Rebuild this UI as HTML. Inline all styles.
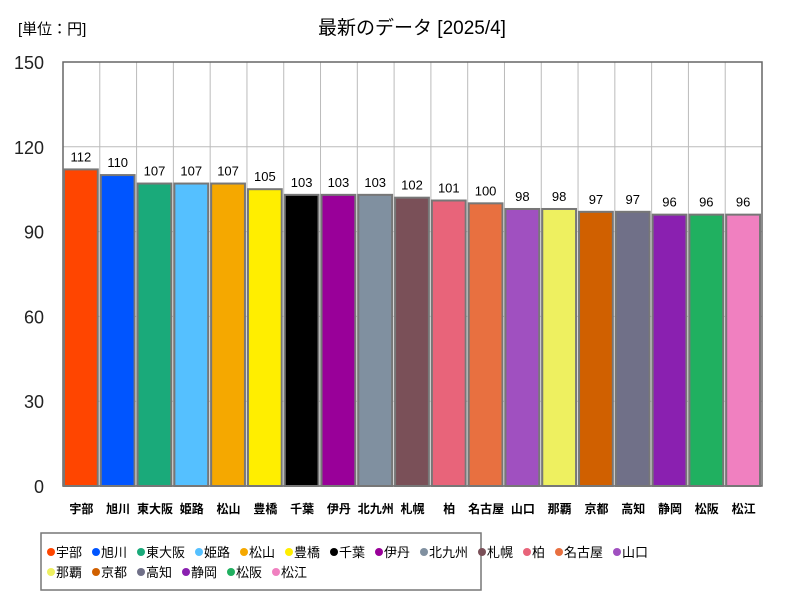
<!DOCTYPE html>
<html><head><meta charset="utf-8"><style>
body{margin:0;background:#fff;font-family:"Liberation Sans","Noto Sans CJK JP",sans-serif;}
svg text{font-family:"Liberation Sans","Noto Sans CJK JP",sans-serif;}
</style></head><body>
<svg id="c" width="800" height="600" xmlns="http://www.w3.org/2000/svg">
<text x="18" y="34" font-size="15">[単位：円]</text>
<text x="412" y="34" font-size="19" text-anchor="middle">最新のデータ [2025/4]</text>
<g id="grid"></g><g id="bars"></g><g id="labels"></g>
<rect x="41" y="533" width="440" height="57" fill="none" stroke="#777" stroke-width="1.5"/>
<g id="legend"></g>
</svg>
<script>
const categories=["宇部","旭川","東大阪","姫路","松山","豊橋","千葉","伊丹","北九州","札幌","柏","名古屋","山口","那覇","京都","高知","静岡","松阪","松江"];
const values=[112,110,107,107,107,105,103,103,103,102,101,100,98,98,97,97,96,96,96];
const colors=["#ff4500","#0055ff","#1aaa7a","#55c0ff","#f5a800","#ffee00","#000000","#990099","#8090a0","#7a5058","#e8647a","#e87040","#a050c0","#eef060","#d06000","#707088","#8a20b0","#20b060","#f080c0"];
const ticks=[0,30,60,90,120,150];
const L=63,R=762,T=62,B=486,MAX=150;
const ns="http://www.w3.org/2000/svg";
const y=v=>B-(v/MAX)*(B-T);
const bw=(R-L)/categories.length;
const x=i=>L+i*bw;
function mk(t,a,p){const e=document.createElementNS(ns,t);for(const k in a)e.setAttribute(k,a[k]);p.appendChild(e);return e;}
const g=document.getElementById('grid'),gb=document.getElementById('bars'),gl=document.getElementById('labels'),lg=document.getElementById('legend');
ticks.forEach(t=>{
 const l=mk('line',{x1:L,x2:R,y1:y(t),y2:y(t),stroke:'#bbb'},g);
 
 
 const tx=mk('text',{x:44,y:y(t)+7,'font-size':18,'text-anchor':'end',fill:'#222'},g);tx.textContent=t;
 
 
});
categories.forEach((c,i)=>{
 if(i>0){const l=mk('line',{x1:x(i),x2:x(i),y1:T,y2:B,stroke:'#bbb'},g);
 
 }
 const r=mk('rect',{x:x(i)+1,y:y(values[i]),width:bw-3,height:B-y(values[i]),fill:colors[i],stroke:'#777','stroke-width':2},gb);
 
 
 const v=mk('text',{x:x(i)+bw/2-0.5,y:y(values[i])-8,'font-size':13,'text-anchor':'middle'},gl);v.textContent=values[i];
 
 
 const cl=mk('text',{x:x(i)+bw/2,y:513,'font-size':12,'font-weight':'bold','text-anchor':'middle'},gl);cl.textContent=c;
 
 
 const row=i<13?0:1, col=i<13?i:i-13;
 // legend item positions computed by accumulating widths
});
mk('rect',{x:L,y:T,width:R-L,height:B-T,fill:'none',stroke:'#666','stroke-width':1.5},g);
let lx=[47,47];
categories.forEach((c,i)=>{
 const row=i<13?0:1; const ly=552+row*20;
 const d=mk('circle',{cx:lx[row]+4,cy:ly,r:4,fill:colors[i]},lg);
 
 
 const t=mk('text',{x:lx[row]+9,y:ly+5,'font-size':13},lg);t.textContent=c;
 
 
 lx[row]+=9+13*c.length+10;
});
</script>
</body></html>
